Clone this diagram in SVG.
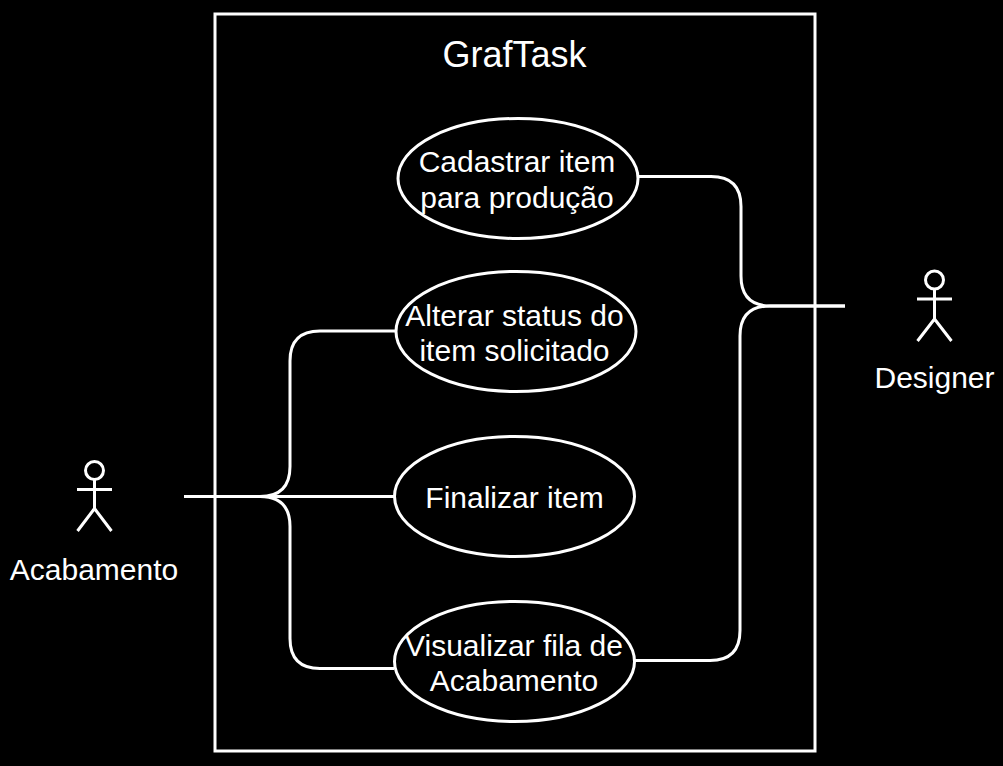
<svg xmlns="http://www.w3.org/2000/svg" width="1003" height="766" viewBox="0 0 1003 766">
<style>
.s{fill:none;stroke:#fff;stroke-width:3}
.e{fill:#000;stroke:#fff;stroke-width:3}
text{font-family:"Liberation Sans",Arial,sans-serif;font-size:30px;fill:#fff;text-anchor:middle}
.t{font-size:36px}
</style>
<rect width="1003" height="766" fill="#000"/>
<g id="system"><rect class="s" x="215" y="14" width="600" height="737"/><text class="t" x="514.500" y="67">GrafTask</text></g>
<g id="connectors">
<path class="s" d="M638 176.500H711Q741 176.500 741 206.500V276Q741 306 771 306H845"/>
<path class="s" d="M635 660.500H710Q740 660.500 740 630.500V336Q740 306 770 306H845"/>
<path class="s" d="M184 496.500H260Q290 496.500 290 466.500V361Q290 331 320 331H397"/>
<path class="s" d="M184 496.500H394"/>
<path class="s" d="M184 496.500H260Q290 496.500 290 526.500V638.500Q290 668.500 320 668.500H394"/>
</g>
<g id="uc1"><ellipse class="e" cx="518" cy="178.500" rx="120" ry="60"/><text x="517" y="172">Cadastrar item</text><text x="517" y="208">para produção</text></g>
<g id="uc2"><ellipse class="e" cx="516" cy="331.500" rx="120" ry="60"/><text x="514.500" y="326">Alterar status do</text><text x="514.500" y="361">item solicitado</text></g>
<g id="uc3"><ellipse class="e" cx="514.500" cy="496.500" rx="120" ry="60"/><text x="514.500" y="508">Finalizar item</text></g>
<g id="uc4"><ellipse class="e" cx="514.500" cy="661.500" rx="120" ry="60"/><text x="514" y="656">Visualizar fila de</text><text x="514" y="691">Acabamento</text></g>
<g id="designer"><circle class="s" cx="934.500" cy="280" r="9"/><path class="s" d="M934.500 289V319M917 299H952M934.500 319L917.500 341M934.500 319L951.500 341"/><text x="934.500" y="388">Designer</text></g>
<g id="acabamento"><circle class="s" cx="94.500" cy="470.500" r="9"/><path class="s" d="M94.500 479.500V509M77 489.500H112M94.500 508.500L77.500 531M94.500 508.500L111.500 531"/><text x="94" y="580">Acabamento</text></g>
</svg>
